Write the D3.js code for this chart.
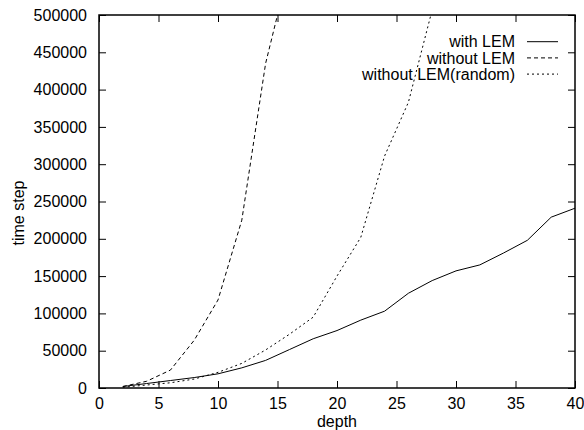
<!DOCTYPE html>
<html><head><meta charset="utf-8">
<script src="https://cdn.jsdelivr.net/npm/d3@7/dist/d3.min.js"></script>
<style>body{margin:0;background:#fff}</style>
</head><body>
<script>
const depthsLEM = [2,4,6,8,10,12,14,16,18,20,22,24,26,28,30,32,34,36,38,40];
const withLEM = [2000,6000,10000,14000,19000,27000,37000,51500,66000,77000,91000,103000,127000,144000,157000,165000,181000,198000,229000,241000];
const depthsNo = [2,4,6,8,10,12,14,16];
const withoutLEM = [2000,9000,24000,64000,118000,225000,435000,565000];
const depthsRand = [2,4,6,8,10,12,14,16,18,20,22,24,26,28];
const withoutLEMRandom = [1000,4000,7000,12000,21000,33000,51000,72000,95000,150000,202000,311000,383000,507000];
const xTicks = [0,5,10,15,20,25,30,35,40];
const yTicks = [0,50000,100000,150000,200000,250000,300000,350000,400000,450000,500000];
const seriesNames = ["with LEM","without LEM","without LEM(random)"];

const W=584,H=430;
const L=99,R=575,T=15,B=388;
const FS=16;
const FF="'Liberation Sans',Arial,sans-serif";
const svg=d3.select("body").append("svg").attr("width",W).attr("height",H)
  .style("font-family",FF);
const x=d3.scaleLinear().domain([0,40]).range([L,R]);
const y=d3.scaleLinear().domain([0,500000]).range([B,T]);

svg.append("defs").append("clipPath").attr("id","clip")
  .append("rect").attr("x",L).attr("y",T).attr("width",R-L).attr("height",B-T);

const tk=7;
const gx=svg.append("g").attr("transform",`translate(0,${B})`)
  .call(d3.axisBottom(x).tickValues(xTicks).tickSize(-tk).tickFormat(d3.format("d")));
const gxt=svg.append("g").attr("transform",`translate(0,${T})`)
  .call(d3.axisTop(x).tickValues(xTicks).tickSize(-tk).tickFormat(""));
const gy=svg.append("g").attr("transform",`translate(${L},0)`)
  .call(d3.axisLeft(y).tickValues(yTicks).tickSize(-tk).tickPadding(12).tickFormat(d3.format("d")));
const gyr=svg.append("g").attr("transform",`translate(${R},0)`)
  .call(d3.axisRight(y).tickValues(yTicks).tickSize(-tk).tickFormat(""));
[gx,gxt,gy,gyr].forEach(g=>{
  g.select(".domain").remove();
  g.selectAll("line").attr("stroke","#000").attr("stroke-width",1);
  g.selectAll("text").attr("font-size",FS).attr("fill","#000").style("font-family",FF);
});
gx.selectAll("text").attr("y",10).attr("dy","0.71em");

svg.append("rect").attr("x",L).attr("y",T).attr("width",R-L).attr("height",B-T)
  .attr("fill","none").attr("stroke","#000").attr("stroke-width",1.5);

svg.append("text").attr("x",(L+R)/2).attr("y",427).attr("text-anchor","middle")
  .attr("font-size",FS).text("depth");
svg.append("text").attr("transform","translate(24,213) rotate(-90)").attr("text-anchor","middle")
  .attr("font-size",FS).text("time step");

const line=d3.line().x(d=>x(d[0])).y(d=>y(d[1]));
const series=[
  {name:seriesNames[0],data:d3.zip(depthsLEM,withLEM),dash:null},
  {name:seriesNames[1],data:d3.zip(depthsNo,withoutLEM),dash:"4,3"},
  {name:seriesNames[2],data:d3.zip(depthsRand,withoutLEMRandom),dash:"2,3"}
];
const pg=svg.append("g").attr("clip-path","url(#clip)");
series.forEach(s=>{
  pg.append("path").attr("d",line(s.data)).attr("fill","none").attr("stroke","#000")
    .attr("stroke-width",1).attr("stroke-dasharray",s.dash);
});

series.forEach((s,i)=>{
  const ly=41.7+i*16.2;
  svg.append("text").attr("x",515).attr("y",ly).attr("dy","0.35em").attr("text-anchor","end")
    .attr("font-size",FS).text(s.name);
  svg.append("line").attr("x1",527).attr("x2",558).attr("y1",ly).attr("y2",ly)
    .attr("stroke","#000").attr("stroke-width",1).attr("stroke-dasharray",s.dash);
});
</script>
</body></html>
